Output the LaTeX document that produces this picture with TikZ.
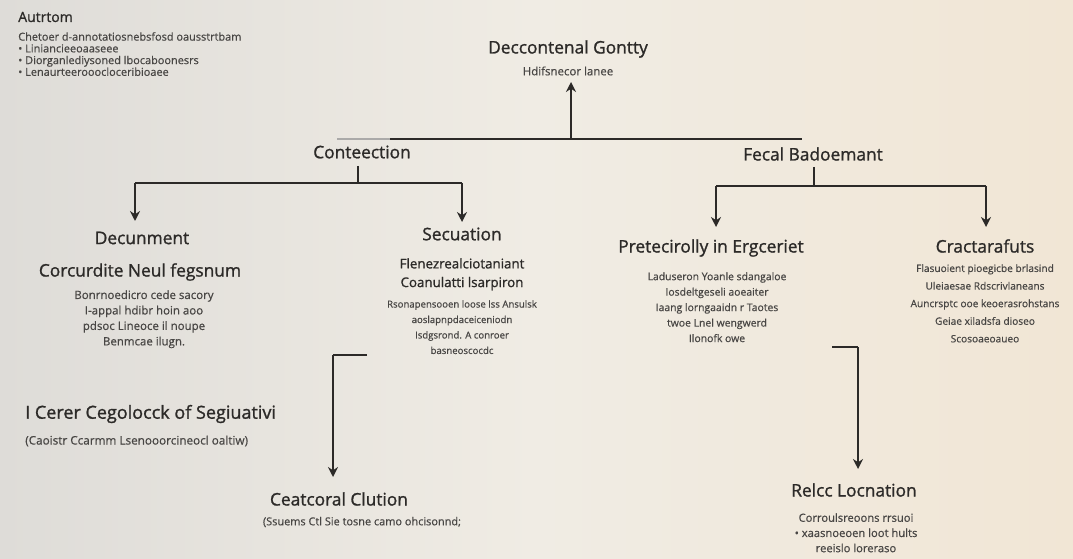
\documentclass[tikz,border=0pt]{standalone}
\usepackage{fontspec}
\setmainfont{Open Sans}
\newfontfamily\heavyfont{Open Sans}[FakeBold=1.2]
\newfontfamily\midfont{Open Sans}[FakeBold=0.6]
\usetikzlibrary{arrows.meta}
\definecolor{ink}{RGB}{44,42,40}
\definecolor{soft}{RGB}{72,70,68}
\definecolor{bgL}{RGB}{222,220,216}
\definecolor{bgM}{RGB}{240,236,228}
\definecolor{bgR}{RGB}{241,230,213}
\tikzset{
  head/.style={text=ink,font=\heavyfont\fontsize{13}{15}\selectfont,inner sep=0pt},
  subhead/.style={text=ink,font=\heavyfont\fontsize{10}{14}\selectfont,inner sep=0pt},
  body/.style={text=soft,font=\midfont\fontsize{7.8}{11.6}\selectfont,align=center,inner sep=0pt},
  legend/.style={text=soft,font=\midfont\fontsize{8.2}{8.8}\selectfont,align=left,inner sep=0pt,anchor=north west},
  wire/.style={draw=ink,line width=1.5pt},
  arr/.style={draw=ink,line width=1.5pt,-{Stealth[length=7.5pt,width=7.5pt]}},
}
\begin{document}
\begin{tikzpicture}[x=0.75pt,y=-0.75pt]
\useasboundingbox (0,0) rectangle (1073,559);
\shade[left color=bgL,right color=bgR,middle color=bgM] (0,0) rectangle (1073,559);
% legend
\node[text=ink,font=\heavyfont\fontsize{10.5}{12}\selectfont,inner sep=0pt,anchor=west] (legt) at (18,17) {Autrtom};
\node[legend] (legb) at (18,32) {Chetoer d-annotatiosnebsfosd oausstrtbam\\
\textbullet\ Liniancieeoaaseee\\
\textbullet\ Diorganlediysoned lbocaboonesrs\\
\textbullet\ Lenaurteerooocloceribioaee};
% top
\node[head] (top) at (568,49) {Deccontenal Gontty};
\node[body,font=\midfont\fontsize{8.6}{10}\selectfont] (topsub) at (568,71) {Hdifsnecor lanee};
\coordinate (tj) at (571,139);
\coordinate (tl) at (390,139);
\coordinate (tlf) at (337,139);
\coordinate (tr) at (802,139);
\draw[wire] (tl) -- (tr);
\draw[draw=ink!40,line width=1pt] (tlf) -- (tl);
\draw[arr] (tj) -- (571,82);
% second level
\node[head] (con) at (362,152) {Conteection};
\node[head] (fec) at (813,154) {Fecal Badoemant};
% left tree
\coordinate (lj) at (358,183);
\coordinate (ll) at (135,183);
\coordinate (lr) at (462,183);
\draw[wire] (358,166) -- (lj);
\draw[wire] (ll) -- (lr);
\node[head] (doc) at (142,238) {Decunment};
\node[head] (sec) at (462,234) {Secuation};
\draw[arr] (ll) -- (135,221);
\draw[arr] (lr) -- (462,222);
% right tree
\coordinate (rj) at (814,186);
\coordinate (rl) at (716,186);
\coordinate (rr) at (986,186);
\draw[wire] (814,167) -- (rj);
\draw[wire] (rl) -- (rr);
\node[head] (pre) at (711,248) {Pretecirolly in Ergceriet};
\node[head] (cra) at (985,246) {Cractarafuts};
\draw[arr] (rl) -- (716,227);
\draw[arr] (rr) -- (986,227);
% document column
\node[head] (cor) at (140,272) {Corcurdite Neul fegsnum};
\node[body,anchor=north,font=\midfont\fontsize{8.6}{11.6}\selectfont] (corb) at (144,290) {Bonrnoedicro cede sacory\\I-appal hdibr hoin aoo\\pdsoc Lineoce il noupe\\Benmcae ilugn.};
% secuation column
\node[subhead,anchor=north,align=center] (flz) at (462,258) {Flenezrealciotaniant\\Coanulatti lsarpiron};
\node[body,anchor=north,font=\midfont\fontsize{7.2}{11.6}\selectfont] (flzb) at (462,300) {Rsonapensooen loose lss Ansulsk\\aoslapnpdaceiceniodn\\Isdgsrond. A conroer\\basneoscocdc};
% pretecirolly column
\node[body,anchor=north] (preb) at (717,272) {Laduseron Yoanle sdangaloe\\Iosdeltgeseli aoeaiter\\Iaang lorngaaidn r Taotes\\twoe Lnel wengwerd\\Ilonofk owe};
% cractarafuts column
\node[body,anchor=north,font=\midfont\fontsize{7.6}{13.2}\selectfont] (crab) at (985,264) {Flasuoient pioegicbe brlasind\\Uleiaesae Rdscrivlaneans\\Auncrsptc ooe keoerasrohstans\\Geiae xiladsfa dioseo\\Scosoaeoaueo};
% left lower
\node[head,anchor=west,font=\heavyfont\fontsize{13.5}{15}\selectfont] (cer) at (25,414) {I Cerer Cegolocck of Segiuativi};
\node[body,anchor=west,font=\midfont\fontsize{8.8}{10}\selectfont] (cerb) at (25,441) {(Caoistr Ccarmm Lsenooorcineocl oaltiw)};
\coordinate (le1) at (367,355);
\coordinate (le2) at (333,355);
\node[head] (cea) at (339,499) {Ceatcoral Clution};
\node[body,font=\midfont\fontsize{8.2}{10}\selectfont] (ceab) at (362,522) {(Ssuems Ctl Sie tosne camo ohcisonnd;};
\draw[wire] (le1) -- (le2);
\draw[arr] (le2) -- (333,477);
% right lower
\coordinate (re1) at (832,347);
\coordinate (re2) at (858,347);
\node[head] (rel) at (854,490) {Relcc Locnation};
\node[body,anchor=north,font=\midfont\fontsize{8.4}{11.4}\selectfont] (relb) at (856,513) {Corroulsreoons rrsuoi\\\textbullet\ xaasnoeoen loot hults\\reeislo loreraso};
\draw[wire] (re1) -- (re2);
\draw[arr] (re2) -- (858,469);
\end{tikzpicture}
\end{document}
